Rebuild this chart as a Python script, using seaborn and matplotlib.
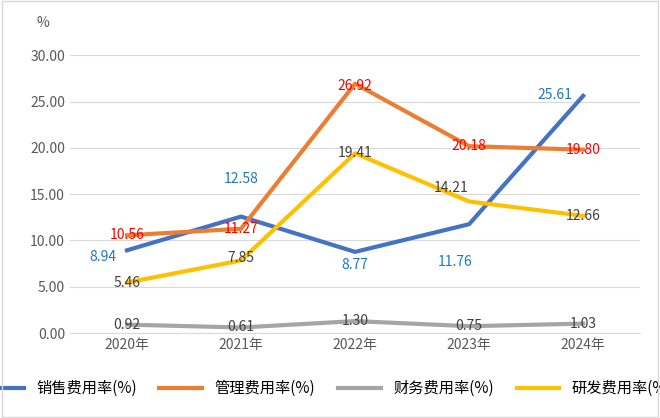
import matplotlib
matplotlib.use("Agg")
import matplotlib.pyplot as plt
import seaborn as sns
import pandas as pd

years = ["2020年", "2021年", "2022年", "2023年", "2024年"]
sales = [8.94, 12.58, 8.77, 11.76, 25.61]
admin = [10.56, 11.27, 26.92, 20.18, 19.80]
fin = [0.92, 0.61, 1.30, 0.75, 1.03]
rnd = [5.46, 7.85, 19.41, 14.21, 12.66]
names = ["销售费用率(%)", "管理费用率(%)", "财务费用率(%)", "研发费用率(%)"]
colors = ["#4472C4", "#ED7D31", "#A5A5A5", "#FFC000"]
label_colors = ["#1F77C0", "#FF0000", "#404040", "#404040"]
# offsets in pixels (dx right, dy up)
offsets = [
    [(-24, -7), (0, 38), (0, -13), (-14, -38), (-28, 1)],
    [(0, 0), (0, 0), (0, -2), (0, 0), (0, 0)],
    [(0, 0), (0, 0), (0, 0), (0, 0), (0, 0)],
    [(0, 0), (0, 2), (0, 0), (-18, 13), (0, 0)],
]

plt.rcParams["font.family"] = "sans-serif"
plt.rcParams["font.sans-serif"] = ["Noto Sans CJK SC", "Noto Sans CJK JP", "DejaVu Sans"]
fig = plt.figure(figsize=(6.6, 4.18), dpi=100)
ax = fig.add_axes([0.106, 0.203, 0.864, 0.665])
rows = []
for n, s in zip(names, [sales, admin, fin, rnd]):
    for i, v in enumerate(s):
        rows.append({"x": i, "v": v, "s": n})
df = pd.DataFrame(rows)
sns.lineplot(data=df, x="x", y="v", hue="s", palette=colors, linewidth=3, ax=ax, legend=True)
for k, s in enumerate([sales, admin, fin, rnd]):
    for i, v in enumerate(s):
        dx, dy = offsets[k][i]
        ax.annotate(f"{v:.2f}", (i, v), xytext=(dx * 0.72, dy * 0.72), textcoords="offset points",
                    ha="center", va="center", fontsize=10, color=label_colors[k])
ax.set_xlim(-0.5, 4.5)
ax.set_ylim(0, 30)
ax.set_yticks(range(0, 31, 5))
ax.set_yticklabels([f"{v:.2f}" for v in range(0, 31, 5)])
ax.set_xticks(range(5))
ax.set_xticklabels(years)
ax.tick_params(length=0, labelsize=10, colors="#595959")
ax.grid(axis="y", color="#D9D9D9", linewidth=0.8)
ax.set_axisbelow(True)
for sp in ["top", "right", "left"]:
    ax.spines[sp].set_visible(False)
ax.spines["bottom"].set_color("#D9D9D9")
ax.set_xlabel("")
ax.set_ylabel("")
fig.text(0.055, 0.935, "%", fontsize=10, color="#595959")
ax.legend(handles=ax.get_legend_handles_labels()[0], labels=names, loc="upper center",
          bbox_to_anchor=(0.45, -0.12), ncol=4, frameon=False, fontsize=11,
          handlelength=2.8, columnspacing=1.5)
fig.patches.append(plt.Rectangle((0.003, 0.003), 0.994, 0.994, transform=fig.transFigure,
                                 fill=False, edgecolor="#D9D9D9", linewidth=1))
fig.savefig("out.png", dpi=100)
